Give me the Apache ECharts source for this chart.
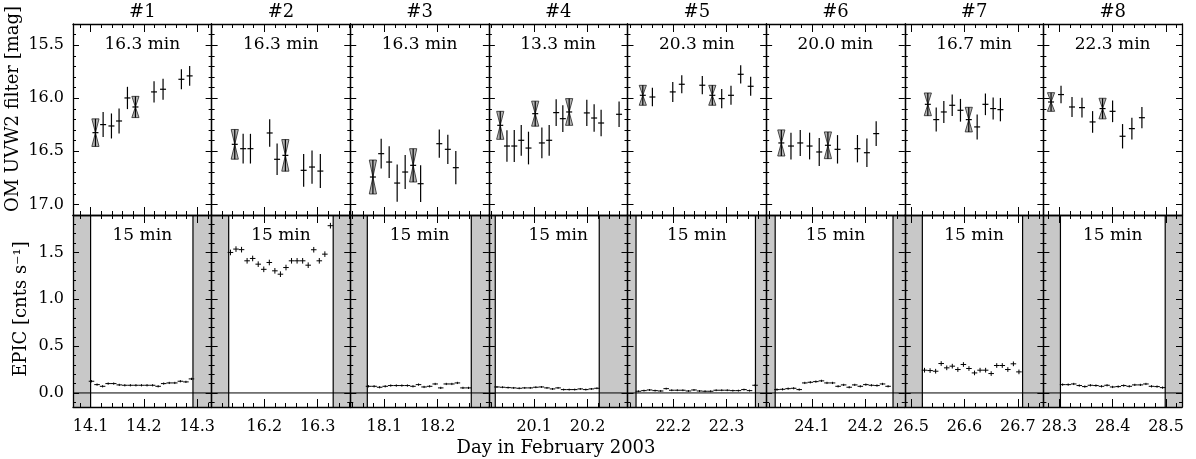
<!DOCTYPE html>
<html><head><meta charset="utf-8">
<script src="https://cdn.jsdelivr.net/npm/echarts@6/dist/echarts.min.js"></script>
<style>html,body{margin:0;padding:0;background:#fff}#c{width:1196px;height:459px}</style>
</head><body><div id="c"></div>
<script>
// ---------------- data ----------------
const panelTitles = ['#1','#2','#3','#4','#5','#6','#7','#8'];
const omExposure = ['16.3 min','16.3 min','16.3 min','13.3 min','20.3 min','20.0 min','16.7 min','22.3 min'];
const epicBinLabel = '15 min';
const yTitleOM = 'OM UVW2 filter [mag]';
const yTitleEPIC = 'EPIC [cnts s\u207B\u00B9]';
const xTitle = 'Day in February 2003';

const xMin = [14.067, 16.101, 18.036, 20.015, 22.114, 24.014, 26.488, 28.270];
const xSpan = 0.26;
const xMajorTicks = [[14.1,14.2,14.3],[16.2,16.3],[18.1,18.2],[20.1,20.2],[22.2,22.3],[24.1,24.2],[26.5,26.6,26.7],[28.3,28.4,28.5]];
const omRange = [15.3, 17.1];
const omYTicks = [15.5, 16.0, 16.5, 17.0];
const epicRange = [-0.15, 1.9];
const epicYTicks = [0.0, 0.5, 1.0, 1.5];

const omTime = [
  [14.1091,14.1235,14.1391,14.1534,14.1691,14.1841,14.2190,14.2359,14.2703,14.2858],
  [16.1444,16.1601,16.1738,16.2099,16.2238,16.2393,16.2736,16.2893,16.3049],
  [18.0785,18.0940,18.1090,18.1240,18.1390,18.1540,18.1680,18.2030,18.2190,18.2340],
  [20.0363,20.0489,20.0626,20.0757,20.0893,20.1019,20.1144,20.1281,20.1412,20.1537,20.1656,20.1987,20.2124,20.2255,20.2592],
  [22.1427,22.1607,22.1989,22.2158,22.2543,22.2731,22.2907,22.3081,22.3263,22.3450],
  [24.0425,24.0606,24.0780,24.0955,24.1136,24.1299,24.1479,24.1853,24.2030,24.2204],
  [26.5313,26.5470,26.5613,26.5770,26.5925,26.6081,26.6238,26.6393,26.6538,26.6674],
  [28.2844,28.3031,28.3237,28.3424,28.3623,28.3810,28.3998,28.4185,28.4360,28.4548]
];
const omMag = [
  [16.324,16.248,16.261,16.214,15.997,16.082,15.940,15.915,15.821,15.789],
  [16.434,16.475,16.475,16.327,16.575,16.538,16.679,16.648,16.686],
  [16.742,16.522,16.601,16.799,16.695,16.632,16.805,16.428,16.481,16.654],
  [16.255,16.450,16.450,16.396,16.469,16.145,16.421,16.396,16.135,16.192,16.129,16.138,16.186,16.233,16.151],
  [15.972,15.988,15.940,15.868,15.877,15.972,16.003,15.972,15.774,15.887],
  [16.421,16.450,16.421,16.450,16.506,16.443,16.481,16.475,16.513,16.333],
  [16.057,16.201,16.129,16.066,16.113,16.201,16.270,16.057,16.097,16.107],
  [16.035,15.965,16.082,16.088,16.223,16.097,16.123,16.358,16.286,16.183]
];
const omErr = [
  [0.130,0.118,0.118,0.118,0.105,0.100,0.100,0.100,0.094,0.094],
  [0.140,0.140,0.140,0.129,0.148,0.149,0.154,0.157,0.160],
  [0.160,0.140,0.150,0.176,0.160,0.157,0.173,0.133,0.138,0.157],
  [0.132,0.148,0.150,0.145,0.154,0.118,0.145,0.145,0.126,0.126,0.126,0.123,0.129,0.126,0.120],
  [0.094,0.088,0.094,0.085,0.086,0.094,0.091,0.090,0.086,0.090],
  [0.123,0.126,0.123,0.126,0.132,0.126,0.134,0.129,0.135,0.116],
  [0.107,0.113,0.104,0.102,0.107,0.116,0.118,0.102,0.104,0.110],
  [0.088,0.082,0.094,0.094,0.102,0.097,0.102,0.115,0.102,0.100]
];
// 1 = point drawn with the grey hourglass marker
const omGlass = [
  [1,0,0,0,0,1,0,0,0,0],
  [1,0,0,0,0,1,0,0,0],
  [1,0,0,0,0,1,0,0,0,0],
  [1,0,0,0,0,1,0,0,0,0,1,0,0,0,0],
  [1,0,0,0,0,1,0,0,0,0],
  [1,0,0,0,0,1,0,0,0,0],
  [1,0,0,0,0,1,0,0,0,0],
  [1,0,0,0,0,1,0,0,0,0]
];

const epicBinDays = 15/1440;
const epicT0 = [14.1017, 16.1363, 18.0703, 20.0302, 22.1345, 24.0344, 26.5251, 28.3061];
const epicRate = [
  [0.125,0.089,0.071,0.100,0.100,0.086,0.082,0.082,0.082,0.082,0.082,0.082,0.071,0.100,0.107,0.107,0.125,0.118,0.150],
  [1.500,1.536,1.530,1.411,1.436,1.375,1.320,1.393,1.304,1.268,1.339,1.411,1.411,1.411,1.364,1.529,1.411,1.482,1.786],
  [0.071,0.071,0.061,0.071,0.079,0.079,0.079,0.079,0.071,0.089,0.064,0.071,0.096,0.054,0.096,0.096,0.107,0.054,0.054],
  [0.064,0.061,0.057,0.054,0.050,0.054,0.054,0.061,0.064,0.054,0.043,0.054,0.036,0.036,0.036,0.043,0.036,0.043,0.050],
  [0.018,0.025,0.032,0.025,0.021,0.046,0.029,0.029,0.029,0.021,0.032,0.021,0.018,0.018,0.029,0.029,0.029,0.025,0.025,0.036,0.025,0.082],
  [0.036,0.039,0.046,0.050,0.036,0.107,0.114,0.121,0.129,0.107,0.107,0.071,0.086,0.061,0.086,0.071,0.089,0.082,0.079,0.096,0.071],
  [0.243,0.239,0.232,0.314,0.268,0.286,0.250,0.304,0.261,0.214,0.243,0.243,0.207,0.293,0.293,0.250,0.311,0.225],
  [0.089,0.089,0.096,0.079,0.068,0.082,0.079,0.071,0.082,0.064,0.068,0.079,0.071,0.086,0.086,0.096,0.071,0.068,0.057]
];
const epicErr = [0.012, 0.030, 0.012, 0.010, 0.010, 0.012, 0.025, 0.012];
const grayStart = [14.100, 16.133, 18.068, 20.027, 22.130, 24.031, 26.521, 28.302];
const grayEnd   = [14.292, 16.329, 18.263, 20.222, 22.354, 24.252, 26.709, 28.4985];

// ---------------- layout ----------------
const FONT = '"DejaVu Serif", serif';
const plotLeft = 73, plotRight = 1182;
const rowTop = [24, 215], rowH = [191, 192];
const colW = (plotRight - plotLeft) / 8;

function minorTicks(lo, hi, step, major) {
  const out = [];
  for (let k = Math.ceil(lo / step - 1e-6); k * step < hi - 1e-6; k++) {
    const v = +(k * step).toFixed(3);
    if (v <= lo + 1e-6) continue;
    const q = v / major;
    if (Math.abs(q - Math.round(q)) > 1e-6) out.push(v);
  }
  return out;
}

function mkAxis(common, pos, vals, len, line, label) {
  return Object.assign({}, common, {
    position: pos,
    axisLine: { show: line, onZero: false, lineStyle: { color: '#000', width: 1.3 } },
    axisTick: { show: true, inside: true, length: len, customValues: vals, lineStyle: { color: '#000', width: 1 } },
    axisLabel: label ? Object.assign({ show: true, customValues: vals, formatter: v => v.toFixed(1), color: '#000', fontFamily: FONT, fontSize: 16 }, label) : { show: false },
    splitLine: { show: false },
    axisPointer: { show: false }
  });
}

function renderOm(params, api) {
  const t = api.value(0), m = api.value(1), e = api.value(2), g = api.value(3);
  const c = api.coord([t, m]);
  const up = api.coord([t, m - e]);
  const dn = api.coord([t, m + e]);
  const ch = [];
  if (g) {
    const w = 3.6;
    const gs = { fill: '#b4b4b4', stroke: '#222', lineWidth: 0.8 };
    ch.push({ type: 'polygon', shape: { points: [[c[0]-w, up[1]], [c[0]+w, up[1]], [c[0], c[1]]] }, style: gs });
    ch.push({ type: 'polygon', shape: { points: [[c[0]-w, dn[1]], [c[0]+w, dn[1]], [c[0], c[1]]] }, style: gs });
  }
  ch.push({ type: 'line', shape: { x1: c[0], y1: up[1], x2: c[0], y2: dn[1] }, style: { stroke: '#000', lineWidth: 1.2 } });
  ch.push({ type: 'line', shape: { x1: c[0]-3, y1: c[1], x2: c[0]+3, y2: c[1] }, style: { stroke: '#000', lineWidth: 1.2 } });
  return { type: 'group', children: ch };
}

function renderEpic(params, api) {
  const t = api.value(0), v = api.value(1), e = api.value(2), hw = api.value(3);
  const a = api.coord([t - hw, v]), b = api.coord([t + hw, v]);
  const c = api.coord([t, v]);
  const up = api.coord([t, v + e]), dn = api.coord([t, v - e]);
  return { type: 'group', children: [
    { type: 'line', shape: { x1: a[0], y1: c[1], x2: b[0], y2: c[1] }, style: { stroke: '#000', lineWidth: 1 } },
    { type: 'line', shape: { x1: c[0], y1: up[1], x2: c[0], y2: dn[1] }, style: { stroke: '#000', lineWidth: 1 } }
  ]};
}

function renderBand(params, api) {
  const a = api.value(0), b = api.value(1), edge = api.value(2);
  const p1 = api.coord([a, epicRange[1]]), p2 = api.coord([b, epicRange[0]]);
  const e1 = api.coord([edge, epicRange[1]]), e2 = api.coord([edge, epicRange[0]]);
  return { type: 'group', children: [
    { type: 'rect', shape: { x: p1[0], y: p1[1], width: p2[0] - p1[0], height: p2[1] - p1[1] }, style: { fill: '#c8c8c8' } },
    { type: 'line', shape: { x1: e1[0], y1: e1[1], x2: e2[0], y2: e2[1] }, style: { stroke: '#000', lineWidth: 1.2 } }
  ]};
}

const grids = [], xAxes = [], yAxes = [], series = [], graphics = [];
for (let r = 0; r < 2; r++) {
  for (let i = 0; i < 8; i++) {
    const g = grids.length;
    grids.push({ left: plotLeft + i * colW, top: rowTop[r], width: colW, height: rowH[r], containLabel: false });
    const lo = xMin[i], hi = xMin[i] + xSpan;
    const majX = xMajorTicks[i], minX = minorTicks(lo, hi, 0.02, 0.1);
    const yr = r === 0 ? omRange : epicRange;
    const majY = r === 0 ? omYTicks : epicYTicks;
    const minY = minorTicks(yr[0], yr[1], 0.1, 0.5);
    const cx = { gridIndex: g, type: 'value', min: lo, max: hi, z: 10 };
    const cy = { gridIndex: g, type: 'value', min: yr[0], max: yr[1], inverse: r === 0, z: 10 };
    const xi = xAxes.length, yi = yAxes.length;
    xAxes.push(mkAxis(cx, 'bottom', majX, 8, true, r === 1 ? { margin: 12 } : null));
    xAxes.push(mkAxis(cx, 'bottom', minX, 4, false, null));
    xAxes.push(mkAxis(cx, 'top', majX, 8, true, null));
    xAxes.push(mkAxis(cx, 'top', minX, 4, false, null));
    yAxes.push(mkAxis(cy, 'left', majY, 6, true, i === 0 ? { margin: 9 } : null));
    yAxes.push(mkAxis(cy, 'left', minY, 3, false, null));
    yAxes.push(mkAxis(cy, 'right', majY, 6, true, null));
    yAxes.push(mkAxis(cy, 'right', minY, 3, false, null));
    const cxm = plotLeft + (i + 0.5) * colW;
    if (r === 0) {
      series.push({
        type: 'custom', xAxisIndex: xi, yAxisIndex: yi, renderItem: renderOm, silent: true, animation: false, z: 3, clip: true,
        encode: { x: 0, y: 1 },
        data: omTime[i].map((t, k) => [t, omMag[i][k], omErr[i][k], omGlass[i][k]])
      });
      graphics.push({ type: 'text', x: cxm, y: 12, style: { text: panelTitles[i], font: '18px ' + FONT, fill: '#000', align: 'center', verticalAlign: 'middle', textAlign: 'center', textVerticalAlign: 'middle' } });
      graphics.push({ type: 'text', x: cxm, y: 45, z: 20, style: { text: omExposure[i], font: '17px ' + FONT, fill: '#000', align: 'center', verticalAlign: 'middle', textAlign: 'center', textVerticalAlign: 'middle' } });
    } else {
      series.push({
        type: 'custom', xAxisIndex: xi, yAxisIndex: yi, renderItem: renderBand, silent: true, animation: false, z: 1, clip: true,
        encode: { x: 0, y: 1 },
        data: [[lo, grayStart[i], grayStart[i]], [grayEnd[i], hi, grayEnd[i]]]
      });
      series.push({
        type: 'line', xAxisIndex: xi, yAxisIndex: yi, silent: true, animation: false, z: 2, symbol: 'none',
        lineStyle: { color: '#000', width: 1 }, data: [[lo, 0], [hi, 0]]
      });
      series.push({
        type: 'custom', xAxisIndex: xi, yAxisIndex: yi, renderItem: renderEpic, silent: true, animation: false, z: 3, clip: true,
        encode: { x: 0, y: 1 },
        data: epicRate[i].map((v, k) => [epicT0[i] + k * epicBinDays, v, epicErr[i], epicBinDays / 2])
      });
      graphics.push({ type: 'text', x: cxm, y: 236, z: 20, style: { text: epicBinLabel, font: '17px ' + FONT, fill: '#000', align: 'center', verticalAlign: 'middle', textAlign: 'center', textVerticalAlign: 'middle' } });
    }
  }
}
graphics.push({ type: 'text', x: 13, y: 109, rotation: Math.PI / 2, style: { text: yTitleOM, font: '18px ' + FONT, fill: '#000', align: 'center', verticalAlign: 'middle', textAlign: 'center', textVerticalAlign: 'middle' } });
graphics.push({ type: 'text', x: 21, y: 309, rotation: Math.PI / 2, style: { text: yTitleEPIC, font: '18px ' + FONT, fill: '#000', align: 'center', verticalAlign: 'middle', textAlign: 'center', textVerticalAlign: 'middle' } });
graphics.push({ type: 'text', x: 556, y: 448, style: { text: xTitle, font: '18px ' + FONT, fill: '#000', align: 'center', verticalAlign: 'middle', textAlign: 'center', textVerticalAlign: 'middle' } });

const chart = echarts.init(document.getElementById('c'), null, { renderer: 'canvas' });
chart.setOption({
  backgroundColor: '#fff',
  animation: false,
  grid: grids,
  xAxis: xAxes,
  yAxis: yAxes,
  series: series,
  graphic: graphics
});
</script></body></html>
